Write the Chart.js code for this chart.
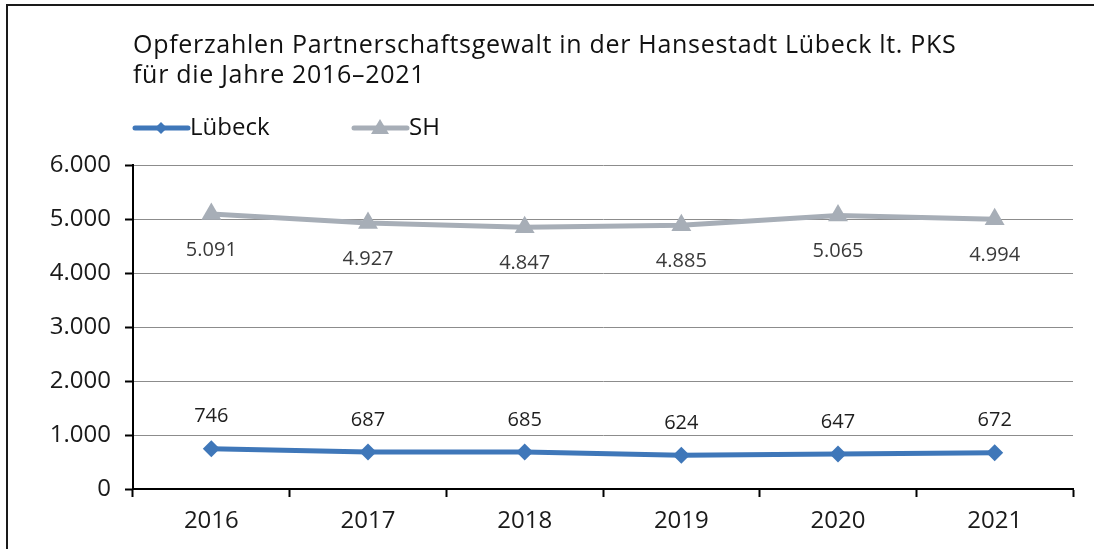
<!DOCTYPE html>
<html>
<head>
<meta charset="utf-8">
<script src="https://cdn.jsdelivr.net/npm/chart.js@4/dist/chart.umd.min.js"></script>
<style>
  html, body { margin: 0; padding: 0; background: #fff; overflow: hidden; }
  #wrap { position: relative; width: 1094px; height: 549px; }
  #frame { position: absolute; left: 6px; top: 4px; width: 1200px; height: 700px;
           border-left: 2px solid #1a1a1a; border-top: 2px solid #1a1a1a; box-sizing: border-box; }
  canvas { position: absolute; left: 0; top: 0; }
</style>
</head>
<body>
<div id="wrap">
  <div id="frame"></div>
  <canvas id="chart" width="1094" height="549"></canvas>
</div>
<script>
const years   = ["2016", "2017", "2018", "2019", "2020", "2021"];
const luebeck = [746, 687, 685, 624, 647, 672];
const sh      = [5091, 4927, 4847, 4885, 5065, 4994];
const yTicks  = [0, 1000, 2000, 3000, 4000, 5000, 6000];

const TITLE = ["Opferzahlen Partnerschaftsgewalt in der Hansestadt Lübeck lt. PKS",
               "für die Jahre 2016–2021"];
const FONT  = "'Open Sans', 'Noto Sans', sans-serif";
const BLUE  = "#3f77b9";
const GREY  = "#a7aeb7";

const fmt = (v) => v.toLocaleString("de-DE");

// title, legend and value labels
const decor = {
  id: "decor",
  afterDatasetsDraw(chart) {
    const ctx = chart.ctx;
    ctx.save();
    ctx.fillStyle = "#111";
    ctx.font = `25px ${FONT}`;
    ctx.letterSpacing = "0.7px";
    ctx.textBaseline = "middle";
    ctx.textAlign = "left";
    ctx.fillText(TITLE[0], 133, 46);
    ctx.fillText(TITLE[1], 133, 76);
    ctx.letterSpacing = "0px";

    // legend
    const items = [
      { x: 133, label: "Lübeck", color: BLUE, ds: 0 },
      { x: 352, label: "SH", color: GREY, ds: 1 },
    ];
    items.forEach((it) => {
      const y = 128;
      ctx.strokeStyle = it.color;
      ctx.lineWidth = 5;
      ctx.lineCap = "round";
      ctx.beginPath();
      ctx.moveTo(it.x + 2, y);
      ctx.lineTo(it.x + 55, y);
      ctx.stroke();
      ctx.fillStyle = it.color;
      const cx = it.x + 28;
      ctx.beginPath();
      if (it.ds === 0) {
        ctx.moveTo(cx, y - 6); ctx.lineTo(cx + 6, y); ctx.lineTo(cx, y + 6); ctx.lineTo(cx - 6, y);
      } else {
        ctx.moveTo(cx, y - 9); ctx.lineTo(cx + 9, y + 6); ctx.lineTo(cx - 9, y + 6);
      }
      ctx.closePath();
      ctx.fill();
      ctx.fillStyle = "#111";
      ctx.font = `24px ${FONT}`;
      ctx.fillText(it.label, it.x + 57, y);
    });

    // value labels
    ctx.font = `20px ${FONT}`;
    ctx.textAlign = "center";
    chart.getDatasetMeta(0).data.forEach((pt, i) => {
      ctx.fillStyle = "#1e1e1e";
      ctx.fillText(fmt(luebeck[i]), pt.x, pt.y - 32);
    });
    chart.getDatasetMeta(1).data.forEach((pt, i) => {
      ctx.fillStyle = "#3a3a3a";
      ctx.fillText(fmt(sh[i]), pt.x, pt.y + 36);
    });
    ctx.restore();
  },
};

new Chart(document.getElementById("chart"), {
  type: "line",
  data: {
    labels: years,
    datasets: [
      {
        label: "Lübeck",
        data: luebeck,
        borderColor: BLUE,
        backgroundColor: BLUE,
        borderWidth: 5,
        pointStyle: "rectRot",
        pointRadius: 8.5,
        pointBorderWidth: 0,
        tension: 0,
      },
      {
        label: "SH",
        data: sh,
        borderColor: GREY,
        backgroundColor: GREY,
        borderWidth: 5,
        pointStyle: "triangle",
        pointRadius: 11.5,
        pointBorderWidth: 0,
        tension: 0,
      },
    ],
  },
  options: {
    responsive: false,
    animation: false,
    layout: { padding: { top: 165, right: 21, left: 0, bottom: 0 } },
    plugins: {
      legend: { display: false },
      title: { display: false },
      tooltip: { enabled: false },
    },
    scales: {
      x: {
        offset: true,
        afterFit: (s) => { s.height = 60; },
        border: { color: "#000", width: 2 },
        grid: { drawOnChartArea: false, drawTicks: true, tickLength: 8, tickColor: "#000", tickWidth: 2, offset: true },
        ticks: { color: "#1a1a1a", font: { family: FONT, size: 24 }, padding: 10 },
      },
      y: {
        min: 0,
        max: 6000,
        afterFit: (s) => { s.width = 133; },
        afterBuildTicks: (s) => { s.ticks = yTicks.map((v) => ({ value: v })); },
        border: { color: "#000", width: 2 },
        grid: { color: "#8c8c8c", lineWidth: 1, tickLength: 8, tickColor: "#000", tickWidth: 2 },
        ticks: { color: "#1a1a1a", font: { family: FONT, size: 24 }, padding: 14, callback: (v) => fmt(v) },
      },
    },
  },
  plugins: [decor],
});
</script>
</body>
</html>
